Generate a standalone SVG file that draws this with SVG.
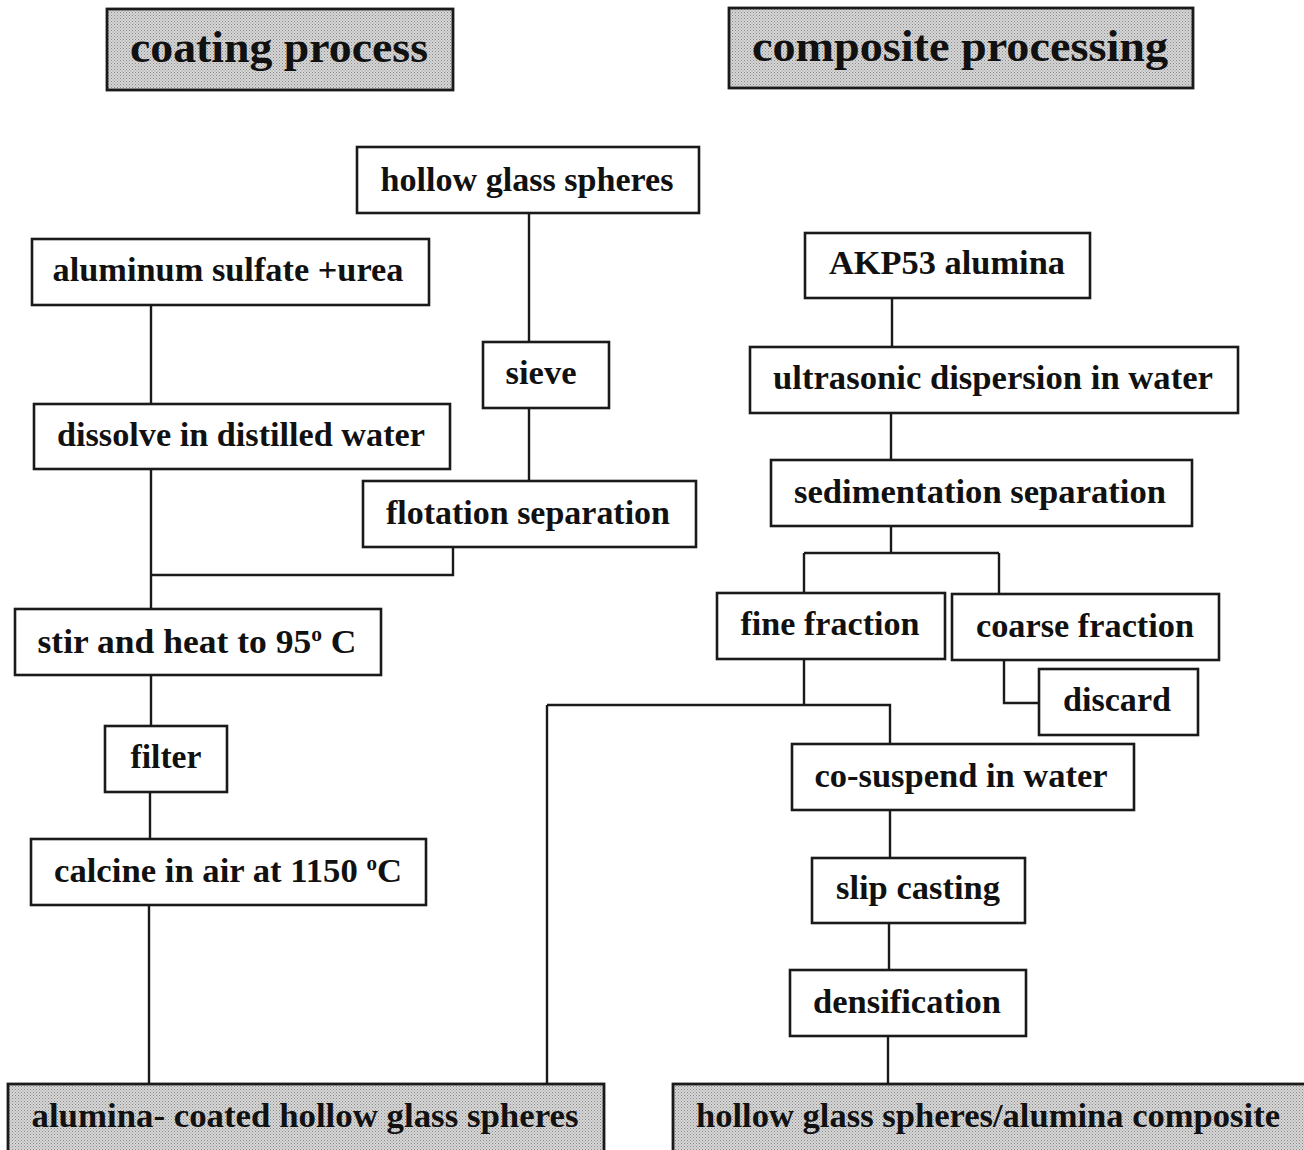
<svg xmlns="http://www.w3.org/2000/svg" width="1304" height="1150" viewBox="0 0 1304 1150">
<defs>
<pattern id="dots" width="3" height="3" patternUnits="userSpaceOnUse">
<rect width="3" height="3" fill="#d6d6d6"/>
<rect width="1" height="1" fill="#8a8a8a"/>
<rect x="1.5" y="1.5" width="1" height="1" fill="#9a9a9a"/>
</pattern>
</defs>
<style>
.box{fill:#fff;stroke:#1a1a1a;stroke-width:2.6}
.hdr{fill:url(#dots);stroke:#1a1a1a;stroke-width:2.8}
.t{font-family:"Liberation Serif","Times New Roman",serif;font-weight:bold;font-size:33px;fill:#111;text-anchor:middle}
.h{font-family:"Liberation Serif","Times New Roman",serif;font-weight:bold;font-size:45px;fill:#111;text-anchor:middle}
.c{fill:none;stroke:#1a1a1a;stroke-width:2.4}
</style>
<rect width="1304" height="1150" fill="#fff"/>
<g id="connectors">
<path class="c" d="M529 213V342M529 408V481"/>
<path class="c" d="M151 305V404M151 469V609M453 547V575H151M151 675V726M150 792V839M149 905V1084"/>
<path class="c" d="M892 298V347M891 413V460M891 526V553M804 553H999M804 553V593M999 553V594"/>
<path class="c" d="M1004 660V703H1039"/>
<path class="c" d="M804 659V705M547 705H890V744M547 705V1084"/>
<path class="c" d="M890 810V858M889 923V970M888 1036V1084"/>
</g>
<g id="hdr-coating"><rect class="hdr" x="107" y="9" width="346" height="81"/><text class="h" x="279" y="62" textLength="298" lengthAdjust="spacingAndGlyphs">coating process</text></g>
<g id="hdr-composite"><rect class="hdr" x="729" y="8" width="464" height="80"/><text class="h" x="960" y="61" textLength="416" lengthAdjust="spacingAndGlyphs">composite processing</text></g>
<g id="n-hgs"><rect class="box" x="357" y="147" width="342" height="66"/><text class="t" x="527" y="191" textLength="293" lengthAdjust="spacingAndGlyphs">hollow glass spheres</text></g>
<g id="n-alsulf"><rect class="box" x="32" y="239" width="397" height="66"/><text class="t" x="228" y="281" textLength="351" lengthAdjust="spacingAndGlyphs">aluminum sulfate +urea</text></g>
<g id="n-sieve"><rect class="box" x="483" y="342" width="126" height="66"/><text class="t" x="541" y="384" textLength="71" lengthAdjust="spacingAndGlyphs">sieve</text></g>
<g id="n-dissolve"><rect class="box" x="34" y="404" width="416" height="65"/><text class="t" x="241" y="446" textLength="368" lengthAdjust="spacingAndGlyphs">dissolve in distilled water</text></g>
<g id="n-flotation"><rect class="box" x="363" y="481" width="333" height="66"/><text class="t" x="528" y="524" textLength="284" lengthAdjust="spacingAndGlyphs">flotation separation</text></g>
<g id="n-stir"><rect class="box" x="15" y="609" width="366" height="66"/><text class="t" x="197" y="653" textLength="319" lengthAdjust="spacingAndGlyphs">stir and heat  to 95<tspan font-size="20" dy="-12">o</tspan><tspan dy="12"> C</tspan></text></g>
<g id="n-filter"><rect class="box" x="105" y="726" width="122" height="66"/><text class="t" x="166" y="768" textLength="71" lengthAdjust="spacingAndGlyphs">filter</text></g>
<g id="n-calcine"><rect class="box" x="31" y="839" width="395" height="66"/><text class="t" x="228" y="882" textLength="348" lengthAdjust="spacingAndGlyphs">calcine in air at 1150 <tspan font-size="20" dy="-12">o</tspan><tspan dy="12">C</tspan></text></g>
<g id="n-coated"><rect class="hdr" x="8" y="1084" width="596" height="70"/><text class="t" x="305" y="1127" textLength="547" lengthAdjust="spacingAndGlyphs">alumina- coated  hollow glass spheres</text></g>
<g id="n-akp"><rect class="box" x="805" y="233" width="285" height="65"/><text class="t" x="947" y="274" textLength="236" lengthAdjust="spacingAndGlyphs">AKP53 alumina</text></g>
<g id="n-ultra"><rect class="box" x="750" y="347" width="488" height="66"/><text class="t" x="993" y="389" textLength="440" lengthAdjust="spacingAndGlyphs">ultrasonic dispersion in water</text></g>
<g id="n-sed"><rect class="box" x="771" y="460" width="421" height="66"/><text class="t" x="980" y="503" textLength="372" lengthAdjust="spacingAndGlyphs">sedimentation separation</text></g>
<g id="n-fine"><rect class="box" x="717" y="593" width="228" height="66"/><text class="t" x="830" y="635" textLength="179" lengthAdjust="spacingAndGlyphs">fine fraction</text></g>
<g id="n-coarse"><rect class="box" x="952" y="594" width="267" height="66"/><text class="t" x="1085" y="637" textLength="218" lengthAdjust="spacingAndGlyphs">coarse fraction</text></g>
<g id="n-discard"><rect class="box" x="1039" y="669" width="159" height="66"/><text class="t" x="1117" y="711" textLength="108" lengthAdjust="spacingAndGlyphs">discard</text></g>
<g id="n-cosusp"><rect class="box" x="792" y="744" width="342" height="66"/><text class="t" x="961" y="787" textLength="293" lengthAdjust="spacingAndGlyphs">co-suspend in water</text></g>
<g id="n-slip"><rect class="box" x="812" y="858" width="213" height="65"/><text class="t" x="918" y="899" textLength="164" lengthAdjust="spacingAndGlyphs">slip casting</text></g>
<g id="n-dens"><rect class="box" x="790" y="970" width="236" height="66"/><text class="t" x="907" y="1013" textLength="188" lengthAdjust="spacingAndGlyphs">densification</text></g>
<g id="n-composite"><rect class="hdr" x="673" y="1084" width="635" height="70"/><text class="t" x="988" y="1127" textLength="584" lengthAdjust="spacingAndGlyphs">hollow glass spheres/alumina composite</text></g>
</svg>
